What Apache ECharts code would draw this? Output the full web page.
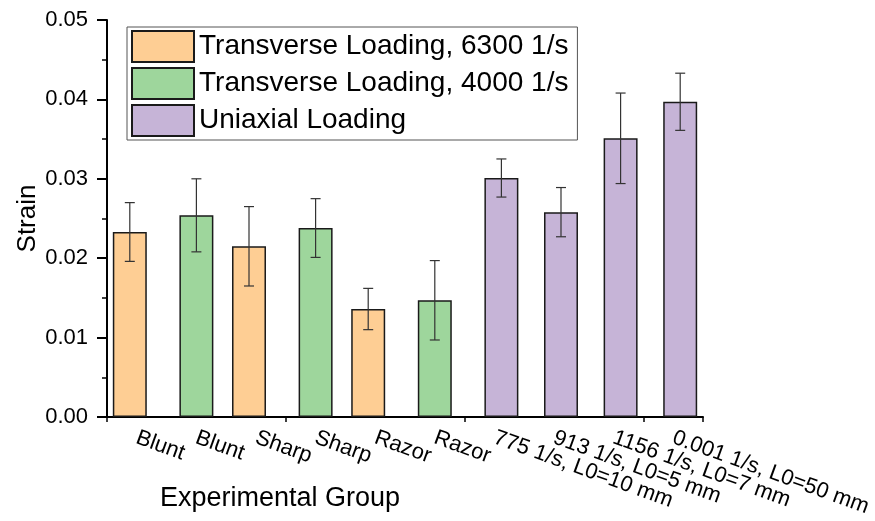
<!DOCTYPE html>
<html>
<head>
<meta charset="utf-8">
<script src="https://cdn.jsdelivr.net/npm/echarts@6/dist/echarts.min.js"></script>
<style>html,body{margin:0;padding:0;background:#fff;}#c{width:875px;height:521px;}</style>
</head>
<body>
<div id="c"></div>
<script>
// ---- data ----
var categories = ['Blunt', 'Blunt', 'Sharp', 'Sharp', 'Razor', 'Razor',
  '775 1/s, L0=10 mm', '913 1/s, L0=5 mm', '1156 1/s, L0=7 mm', '0.001 1/s, L0=50 mm'];
var seriesNames = ['Transverse Loading, 6300 1/s', 'Transverse Loading, 4000 1/s', 'Uniaxial Loading'];
// which series each category belongs to
var groupOf = [0, 1, 0, 1, 0, 1, 2, 2, 2, 2];
var means  = [0.0233, 0.0254, 0.0215, 0.0238, 0.0136, 0.0147, 0.0301, 0.0258, 0.0351, 0.0397];
var errors = [0.0037, 0.0046, 0.0050, 0.0037, 0.0026, 0.0050, 0.0024, 0.0031, 0.0057, 0.0036];
var yTicks = [0, 0.01, 0.02, 0.03, 0.04, 0.05];

// ---- styles ----
var colors = ['#FECE94', '#9ED69C', '#C6B4D7'];
var BAR_W = 0.57;      // fraction of category width
var BAR_GAP = -0.794;  // fraction of bar width

var series = [];
seriesNames.forEach(function (name, s) {
  series.push({
    name: name,
    type: 'bar',
    barWidth: (BAR_W * 100) + '%',
    barGap: (BAR_GAP * 100) + '%',
    itemStyle: { color: colors[s], borderColor: '#1a1a1a', borderWidth: 1.5 },
    data: categories.map(function (c, i) { return groupOf[i] === s ? means[i] : null; }),
    z: 2
  });
});
seriesNames.forEach(function (name, s) {
  var d = [];
  categories.forEach(function (c, i) { if (groupOf[i] === s) d.push([i, means[i], errors[i]]); });
  series.push({
    type: 'custom',
    name: name + ' err',
    z: 5,
    silent: true,
    data: d,
    renderItem: function (params, api) {
      var idx = api.value(0), m = api.value(1), e = api.value(2);
      var band = api.size([1, 0])[0];
      var off = (s - 1) * band * BAR_W * (1 + BAR_GAP);
      var top = api.coord([idx, m + e]);
      var bot = api.coord([idx, m - e]);
      var x = top[0] + off;
      var cap = 5;
      var st = { stroke: '#333', lineWidth: 1.2 };
      return { type: 'group', children: [
        { type: 'line', shape: { x1: x, y1: top[1], x2: x, y2: bot[1] }, style: st },
        { type: 'line', shape: { x1: x - cap, y1: top[1], x2: x + cap, y2: top[1] }, style: st },
        { type: 'line', shape: { x1: x - cap, y1: bot[1], x2: x + cap, y2: bot[1] }, style: st }
      ]};
    }
  });
});

var font = 'Liberation Sans, Arial, sans-serif';
var chart = echarts.init(document.getElementById('c'));
chart.setOption({
  animation: false,
  backgroundColor: '#fff',
  textStyle: { fontFamily: font },
  grid: { left: 107, right: 172, top: 20, bottom: 104, containLabel: false, outerBoundsMode: 'none' },
  legend: {
    data: seriesNames,
    orient: 'vertical',
    left: 127, top: 27,
    itemWidth: 62, itemHeight: 31, itemGap: 4,
    padding: [3, 9, 3, 4],
    backgroundColor: '#fff',
    borderColor: '#555', borderWidth: 1,
    textStyle: { fontFamily: font, fontSize: 28, color: '#000' },
    icon: 'rect'
  },
  xAxis: [{
    type: 'category',
    data: categories,
    name: 'Experimental Group',
    nameLocation: 'middle',
    nameGap: 68,
    nameMoveOverlap: false,
    nameTextStyle: { fontFamily: font, fontSize: 27, color: '#000', padding: [0, 250, 0, 0] },
    axisLine: { lineStyle: { color: '#000', width: 2 } },
    axisTick: { alignWithLabel: true, length: 10, lineStyle: { color: '#000', width: 2 } },
    axisLabel: { rotate: -20, margin: 20, fontFamily: font, fontSize: 22, color: '#000', interval: 0 },
    splitLine: { show: false }
  }, {
    type: 'category',
    data: categories,
    position: 'bottom',
    axisLine: { show: false },
    axisTick: { show: true, length: 5, inside: false, lineStyle: { color: '#000', width: 1.5 } },
    axisLabel: { show: false },
    splitLine: { show: false }
  }],
  yAxis: {
    type: 'value',
    min: yTicks[0], max: yTicks[yTicks.length - 1], interval: 0.01,
    name: 'Strain',
    nameLocation: 'middle',
    nameGap: 66,
    nameMoveOverlap: false,
    nameTextStyle: { fontFamily: font, fontSize: 26, color: '#000' },
    axisLine: { show: true, lineStyle: { color: '#000', width: 2 } },
    axisTick: { show: true, length: 10, lineStyle: { color: '#000', width: 2 } },
    minorTick: { show: true, splitNumber: 2, length: 5, lineStyle: { color: '#000', width: 1.5 } },
    axisLabel: { margin: 19, fontFamily: font, fontSize: 22, color: '#000',
      formatter: function (v) { return v.toFixed(2); } },
    splitLine: { show: false }
  },
  series: series
});
</script>
</body>
</html>
